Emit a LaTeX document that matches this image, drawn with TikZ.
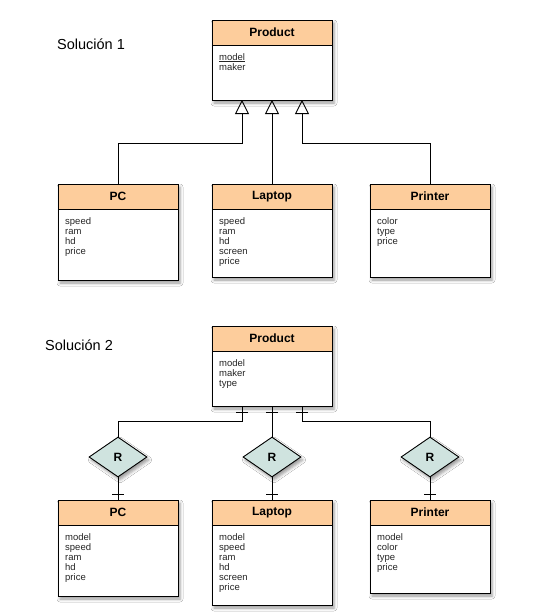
\documentclass[tikz,border=0pt]{standalone}
\usepackage{fontspec}
\setmainfont{Liberation Sans}
\usetikzlibrary{shapes.geometric,arrows.meta,shadows.blur}

\definecolor{hdrfill}{HTML}{FDCD9C}
\definecolor{relfill}{HTML}{CFE3DF}

\tikzset{
  softshadow/.style={blur shadow={shadow xshift=2pt, shadow yshift=-3pt,
      shadow blur radius=3pt, shadow opacity=40}},
  % whole class box (carries the shadow), header drawn on top of it
  cbody/.style={draw, line width=1pt, fill=white, minimum width=120pt,
      anchor=north west, inner sep=0pt, outer sep=0pt, softshadow},
  hdr/.style={draw, line width=1pt, fill=hdrfill, minimum width=120pt,
      minimum height=25pt, anchor=north west, inner sep=0pt, outer sep=0pt,
      font=\fontsize{12}{14}\selectfont\bfseries},
  attrs/.style={anchor=north west, align=left, inner sep=0pt,
      font=\fontsize{9.5}{10}\selectfont, text=black!85},
  rel/.style={diamond, draw, line width=0.9pt, fill=relfill,
      minimum width=58pt, minimum height=40pt, inner sep=0pt,
      font=\fontsize{12}{14}\selectfont\bfseries, softshadow},
  link/.style={line width=0.9pt},
  isa/.style={link, -{Triangle[open, length=14pt, width=14pt]}},
  bar/.style={line width=0.9pt},
  caption/.style={anchor=base west, inner sep=0pt,
      font=\fontsize{14.5}{16}\selectfont},
}

\begin{document}
\begin{tikzpicture}[x=1pt, y=-1pt]
  \fill[white] (0,0) rectangle (538,616);
  \useasboundingbox (0,0) rectangle (538,616);

  % ---------------- Solución 1: generalisation ----------------
  \node[caption] (capA) at (57,49) {Solución 1};

  \node[cbody, minimum height=80pt] (prodAb) at (212,20) {};
  \node[hdr] (prodA) at (prodAb.north west) {Product};
  \node[attrs] (prodAt) at ([shift={(7pt,-8pt)}]prodA.south west) {\underline{model}\\maker};

  \node[cbody, minimum height=96pt] (pcAb) at (58,184) {};
  \node[hdr] (pcA) at (pcAb.north west) {PC};
  \node[attrs] (pcAt) at ([shift={(7pt,-8pt)}]pcA.south west) {speed\\ram\\hd\\price};

  \node[cbody, minimum height=93pt] (lapAb) at (212,184) {};
  \node[hdr] (lapA) at (lapAb.north west) {Laptop};
  \node[attrs] (lapAt) at ([shift={(7pt,-8pt)}]lapA.south west) {speed\\ram\\hd\\screen\\price};

  \node[cbody, minimum height=93pt] (prnAb) at (370,184) {};
  \node[hdr] (prnA) at (prnAb.north west) {Printer};
  \node[attrs] (prnAt) at ([shift={(7pt,-8pt)}]prnA.south west) {color\\type\\price};

  \coordinate (jA) at (242,143);
  \coordinate (jC) at (302,143);
  \draw[isa] (pcA.north) |- (jA) -- (jA |- prodAb.south);
  \draw[isa] (lapA.north) -- (lapA.north |- prodAb.south);
  \draw[isa] (prnA.north) |- (jC) -- (jC |- prodAb.south);

  % ---------------- Solución 2: relationships ----------------
  \node[caption] (capB) at (45,350) {Solución 2};

  \node[cbody, minimum height=80pt] (prodBb) at (212,326) {};
  \node[hdr] (prodB) at (prodBb.north west) {Product};
  \node[attrs] (prodBt) at ([shift={(7pt,-8pt)}]prodB.south west) {model\\maker\\type};

  \node[rel] (rA) at (118,457) {R};
  \node[rel] (rB) at (272,457) {R};
  \node[rel] (rC) at (430,457) {R};

  \node[cbody, minimum height=96pt] (pcBb) at (58,500) {};
  \node[hdr] (pcB) at (pcBb.north west) {PC};
  \node[attrs] (pcBt) at ([shift={(7pt,-8pt)}]pcB.south west) {model\\speed\\ram\\hd\\price};

  \node[cbody, minimum height=105pt] (lapBb) at (212,500) {};
  \node[hdr] (lapB) at (lapBb.north west) {Laptop};
  \node[attrs] (lapBt) at ([shift={(7pt,-8pt)}]lapB.south west) {model\\speed\\ram\\hd\\screen\\price};

  \node[cbody, minimum height=93pt] (prnBb) at (370,500) {};
  \node[hdr] (prnB) at (prnBb.north west) {Printer};
  \node[attrs] (prnBt) at ([shift={(7pt,-8pt)}]prnB.south west) {model\\color\\type\\price};

  \coordinate (kA) at (242,421);
  \coordinate (kC) at (302,421);
  \coordinate (uA) at (kA |- prodBb.south);
  \coordinate (uB) at (prodBb.south);
  \coordinate (uC) at (kC |- prodBb.south);

  \draw[link] (uA) -- (kA) -| (rA.north);
  \draw[link] (uB) -- (rB.north);
  \draw[link] (uC) -- (kC) -| (rC.north);
  \draw[link] (rA.south) -- (pcB.north);
  \draw[link] (rB.south) -- (lapB.north);
  \draw[link] (rC.south) -- (prnB.north);

  % one-bars near the entity ends
  \foreach \u in {uA,uB,uC}
    \draw[bar] ([shift={(-6pt,-6pt)}]\u) -- ([shift={(6pt,-6pt)}]\u);
  \foreach \e in {pcB,lapB,prnB}
    \draw[bar] ([shift={(-6pt,6pt)}]\e.north) -- ([shift={(6pt,6pt)}]\e.north);
\end{tikzpicture}
\end{document}
